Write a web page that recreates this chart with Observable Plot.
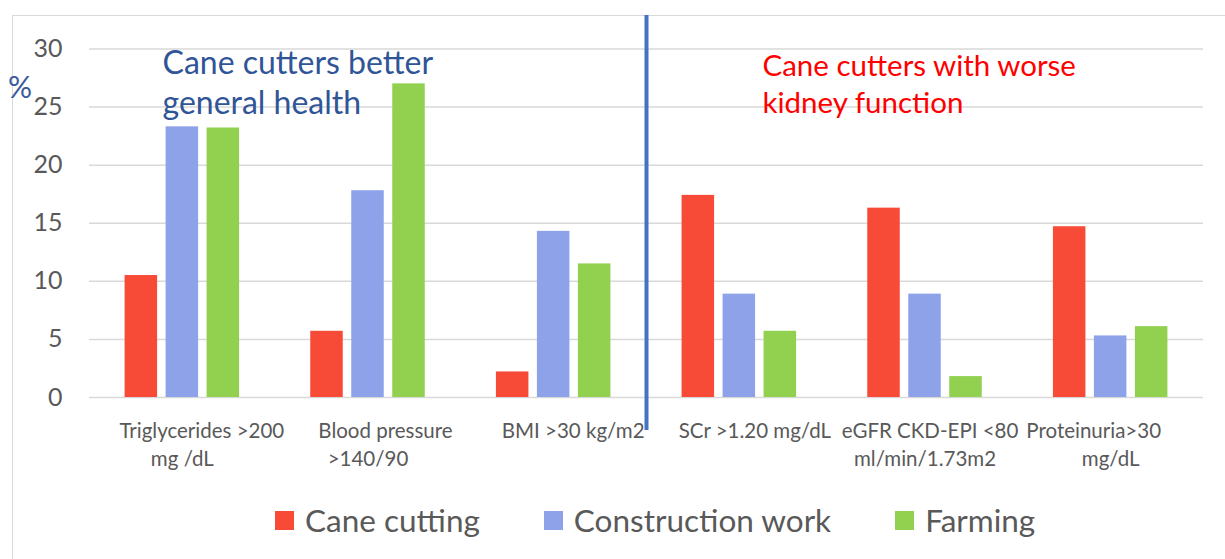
<!DOCTYPE html>
<html>
<head>
<meta charset="utf-8">
<script src="https://cdn.jsdelivr.net/npm/d3@7"></script>
<script src="https://cdn.jsdelivr.net/npm/@observablehq/plot@0.6"></script>
<style>
  html, body { margin: 0; padding: 0; background: #fff; }
  #wrap { position: relative; width: 1225px; height: 559px; overflow: hidden; font-family: Lato, sans-serif; }
  #frame { position: absolute; left: 12px; top: 15px; width: 1300px; height: 600px; border: 1.5px solid #d9d9d9; box-sizing: border-box; }
  #chart { position: absolute; left: 0; top: 0; }
  #legend { position: absolute; left: 275px; top: 501px; display: flex; align-items: center; font-size: 31.5px; color: #595959; white-space: nowrap; }
  .item { display: flex; align-items: center; margin-right: 64px; }
  .sw { width: 19px; height: 19px; margin-right: 11px; }
</style>
</head>
<body>
<div id="wrap">
  <div id="frame"></div>
  <div id="chart"></div>
  <div id="legend"></div>
</div>
<script>
// ---- data ----
const categories = [
  "Triglycerides >200 mg /dL",
  "Blood pressure >140/90",
  "BMI >30 kg/m2",
  "SCr >1.20 mg/dL",
  "eGFR CKD-EPI <80 ml/min/1.73m2",
  "Proteinuria>30 mg/dL"
];
const labelLine1 = ["Triglycerides >200", "Blood pressure", "BMI >30 kg/m2", "SCr >1.20 mg/dL", "eGFR CKD-EPI <80", "Proteinuria>30"];
const labelLine2 = ["mg /dL", ">140/90", "", "", "ml/min/1.73m2", "mg/dL"];
const seriesNames = ["Cane cutting", "Construction work", "Farming"];
const caneCutting = [10.5, 5.7, 2.2, 17.4, 16.3, 14.7];
const constructionWork = [23.3, 17.8, 14.3, 8.9, 8.9, 5.3];
const farming = [23.2, 27.0, 11.5, 5.7, 1.8, 6.1];
const yTicks = [0, 5, 10, 15, 20, 25, 30];
const leftNote = "Cane cutters better\ngeneral health";
const rightNote = "Cane cutters with worse\nkidney function";

// ---- layout / style ----
const colors = ["#F84B37", "#8EA2EA", "#92D050"];
const W = 1225, H = 480;
const mL = 89, mR = 22, mT = 48.5, mB = 83;
const stepPx = (W - mL - mR) / categories.length;
const barPitch = 41 / stepPx;     // distance between bar centres (category units)
const barWidth = 32.5 / stepPx;   // bar width (category units)
const line1ShiftPx = [19.5, 17.5, 19.5, 15.5, 5, -17];

const seriesValues = [caneCutting, constructionWork, farming];
const rows = [];
categories.forEach((c, i) => {
  seriesNames.forEach((s, k) => {
    rows.push({i, cat: c, series: s, k, value: seriesValues[k][i]});
  });
});
const labels1 = labelLine1.map((t, i) => ({i, t}));
const labels2 = labelLine2.map((t, i) => ({i, t})).filter(d => d.t);

const chart = Plot.plot({
  width: W,
  height: H,
  marginLeft: mL, marginRight: mR, marginTop: mT, marginBottom: mB,
  style: {fontFamily: "Lato, sans-serif", background: "transparent", overflow: "visible"},
  x: {type: "linear", domain: [-0.5, categories.length - 0.5], axis: null},
  y: {domain: [0, 30], axis: null},
  color: {domain: seriesNames, range: colors},
  marks: [
    Plot.gridY(yTicks, {stroke: "#d9d9d9", strokeOpacity: 1, strokeWidth: 1.5}),
    Plot.axisY(yTicks, {tickSize: 0, tickPadding: 27, fontSize: 25, fill: "#595959", label: null}),
    Plot.rect(rows, {
      x1: d => d.i + (d.k - 1) * barPitch - barWidth / 2,
      x2: d => d.i + (d.k - 1) * barPitch + barWidth / 2,
      y1: 0,
      y2: "value",
      fill: "series"
    }),
    Plot.ruleX([2.5], {stroke: "#4472C4", strokeWidth: 4, insetTop: -33.5, insetBottom: -33}),
    Plot.text(labels1, {x: d => d.i + line1ShiftPx[d.i] / stepPx, text: "t", frameAnchor: "bottom", dy: 34, lineAnchor: "middle", fontSize: 20.5, fill: "#595959"}),
    Plot.text(labels2, {x: "i", text: "t", frameAnchor: "bottom", dy: 62, lineAnchor: "middle", fontSize: 20.5, fill: "#595959"}),
    Plot.text([leftNote], {frameAnchor: "top-left", dx: 73, dy: 32.5, textAnchor: "start", lineAnchor: "middle", lineHeight: 1.25, fontSize: 32, fill: "#2F5597"}),
    Plot.text([rightNote], {frameAnchor: "top-left", dx: 673, dy: 33.5, textAnchor: "start", lineAnchor: "middle", lineHeight: 1.25, fontSize: 29.5, fill: "#FF0000"}),
    Plot.text(["%"], {frameAnchor: "top-left", dx: -69.5, dy: 39, textAnchor: "middle", lineAnchor: "middle", fontSize: 30, fill: "#3A5A9C"})
  ]
});
document.getElementById("chart").appendChild(chart);

const legend = document.getElementById("legend");
seriesNames.forEach((s, k) => {
  const item = document.createElement("div");
  item.className = "item";
  const sw = document.createElement("span");
  sw.className = "sw";
  sw.style.background = colors[k];
  const tx = document.createElement("span");
  tx.textContent = s;
  item.appendChild(sw);
  item.appendChild(tx);
  legend.appendChild(item);
});
</script>
</body>
</html>
